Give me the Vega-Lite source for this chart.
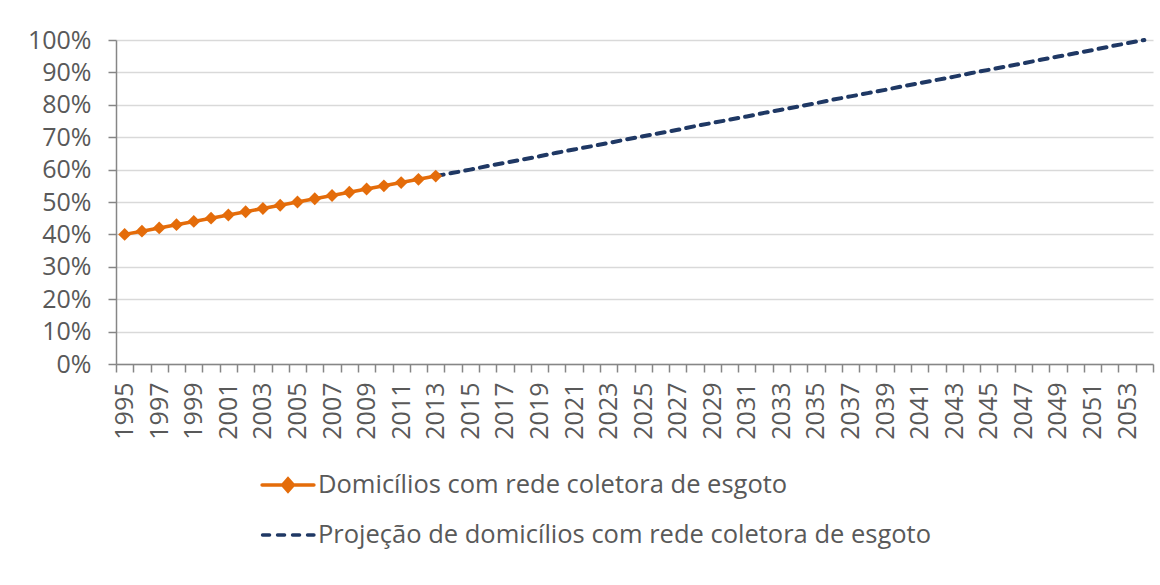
{
  "$schema": "https://vega.github.io/schema/vega-lite/v6.json",
  "autosize": {"type": "none"},
  "width": 1037,
  "height": 324,
  "padding": {"left": 116, "top": 40, "right": 7, "bottom": 221},
  "background": "white",
  "config": {
    "view": {"stroke": null},
    "font": "Open Sans",
    "axis": {"labelFont": "Open Sans", "labelColor": "#595959", "labelFontSize": 25, "domainColor": "#868686", "tickColor": "#868686", "domainWidth": 1.5, "tickWidth": 1.5}
  },
  "datasets": {
    "actual": [
      {"year": 1995, "value": 0.40, "series": "Domicílios com rede coletora de esgoto"},
      {"year": 1996, "value": 0.41, "series": "Domicílios com rede coletora de esgoto"},
      {"year": 1997, "value": 0.42, "series": "Domicílios com rede coletora de esgoto"},
      {"year": 1998, "value": 0.43, "series": "Domicílios com rede coletora de esgoto"},
      {"year": 1999, "value": 0.44, "series": "Domicílios com rede coletora de esgoto"},
      {"year": 2000, "value": 0.45, "series": "Domicílios com rede coletora de esgoto"},
      {"year": 2001, "value": 0.46, "series": "Domicílios com rede coletora de esgoto"},
      {"year": 2002, "value": 0.47, "series": "Domicílios com rede coletora de esgoto"},
      {"year": 2003, "value": 0.48, "series": "Domicílios com rede coletora de esgoto"},
      {"year": 2004, "value": 0.49, "series": "Domicílios com rede coletora de esgoto"},
      {"year": 2005, "value": 0.50, "series": "Domicílios com rede coletora de esgoto"},
      {"year": 2006, "value": 0.51, "series": "Domicílios com rede coletora de esgoto"},
      {"year": 2007, "value": 0.52, "series": "Domicílios com rede coletora de esgoto"},
      {"year": 2008, "value": 0.53, "series": "Domicílios com rede coletora de esgoto"},
      {"year": 2009, "value": 0.54, "series": "Domicílios com rede coletora de esgoto"},
      {"year": 2010, "value": 0.55, "series": "Domicílios com rede coletora de esgoto"},
      {"year": 2011, "value": 0.56, "series": "Domicílios com rede coletora de esgoto"},
      {"year": 2012, "value": 0.57, "series": "Domicílios com rede coletora de esgoto"},
      {"year": 2013, "value": 0.58, "series": "Domicílios com rede coletora de esgoto"}
    ],
    "projection": [
      {"year": 2013, "value": 0.580, "series": "Projeção de domicílios com rede coletora de esgoto"},
      {"year": 2014, "value": 0.590, "series": "Projeção de domicílios com rede coletora de esgoto"},
      {"year": 2015, "value": 0.600, "series": "Projeção de domicílios com rede coletora de esgoto"},
      {"year": 2016, "value": 0.611, "series": "Projeção de domicílios com rede coletora de esgoto"},
      {"year": 2017, "value": 0.621, "series": "Projeção de domicílios com rede coletora de esgoto"},
      {"year": 2018, "value": 0.631, "series": "Projeção de domicílios com rede coletora de esgoto"},
      {"year": 2019, "value": 0.641, "series": "Projeção de domicílios com rede coletora de esgoto"},
      {"year": 2020, "value": 0.652, "series": "Projeção de domicílios com rede coletora de esgoto"},
      {"year": 2021, "value": 0.662, "series": "Projeção de domicílios com rede coletora de esgoto"},
      {"year": 2022, "value": 0.672, "series": "Projeção de domicílios com rede coletora de esgoto"},
      {"year": 2023, "value": 0.682, "series": "Projeção de domicílios com rede coletora de esgoto"},
      {"year": 2024, "value": 0.693, "series": "Projeção de domicílios com rede coletora de esgoto"},
      {"year": 2025, "value": 0.703, "series": "Projeção de domicílios com rede coletora de esgoto"},
      {"year": 2026, "value": 0.713, "series": "Projeção de domicílios com rede coletora de esgoto"},
      {"year": 2027, "value": 0.723, "series": "Projeção de domicílios com rede coletora de esgoto"},
      {"year": 2028, "value": 0.734, "series": "Projeção de domicílios com rede coletora de esgoto"},
      {"year": 2029, "value": 0.744, "series": "Projeção de domicílios com rede coletora de esgoto"},
      {"year": 2030, "value": 0.754, "series": "Projeção de domicílios com rede coletora de esgoto"},
      {"year": 2031, "value": 0.764, "series": "Projeção de domicílios com rede coletora de esgoto"},
      {"year": 2032, "value": 0.775, "series": "Projeção de domicílios com rede coletora de esgoto"},
      {"year": 2033, "value": 0.785, "series": "Projeção de domicílios com rede coletora de esgoto"},
      {"year": 2034, "value": 0.795, "series": "Projeção de domicílios com rede coletora de esgoto"},
      {"year": 2035, "value": 0.805, "series": "Projeção de domicílios com rede coletora de esgoto"},
      {"year": 2036, "value": 0.816, "series": "Projeção de domicílios com rede coletora de esgoto"},
      {"year": 2037, "value": 0.826, "series": "Projeção de domicílios com rede coletora de esgoto"},
      {"year": 2038, "value": 0.836, "series": "Projeção de domicílios com rede coletora de esgoto"},
      {"year": 2039, "value": 0.846, "series": "Projeção de domicílios com rede coletora de esgoto"},
      {"year": 2040, "value": 0.857, "series": "Projeção de domicílios com rede coletora de esgoto"},
      {"year": 2041, "value": 0.867, "series": "Projeção de domicílios com rede coletora de esgoto"},
      {"year": 2042, "value": 0.877, "series": "Projeção de domicílios com rede coletora de esgoto"},
      {"year": 2043, "value": 0.887, "series": "Projeção de domicílios com rede coletora de esgoto"},
      {"year": 2044, "value": 0.898, "series": "Projeção de domicílios com rede coletora de esgoto"},
      {"year": 2045, "value": 0.908, "series": "Projeção de domicílios com rede coletora de esgoto"},
      {"year": 2046, "value": 0.918, "series": "Projeção de domicílios com rede coletora de esgoto"},
      {"year": 2047, "value": 0.928, "series": "Projeção de domicílios com rede coletora de esgoto"},
      {"year": 2048, "value": 0.939, "series": "Projeção de domicílios com rede coletora de esgoto"},
      {"year": 2049, "value": 0.949, "series": "Projeção de domicílios com rede coletora de esgoto"},
      {"year": 2050, "value": 0.959, "series": "Projeção de domicílios com rede coletora de esgoto"},
      {"year": 2051, "value": 0.969, "series": "Projeção de domicílios com rede coletora de esgoto"},
      {"year": 2052, "value": 0.980, "series": "Projeção de domicílios com rede coletora de esgoto"},
      {"year": 2053, "value": 0.990, "series": "Projeção de domicílios com rede coletora de esgoto"},
      {"year": 2054, "value": 1.000, "series": "Projeção de domicílios com rede coletora de esgoto"}
    ]
  },
  "encoding": {
    "x": {
      "field": "year", "type": "ordinal",
      "scale": {"type": "band", "paddingInner": 0, "paddingOuter": 0},
      "axis": {"title": null, "labelAngle": -90, "labelExpr": "(datum.value - 1995) % 2 == 0 ? datum.label : ''", "labelOverlap": false, "tickBand": "extent", "tickSize": 8, "labelPadding": 10, "grid": false}
    },
    "y": {
      "field": "value", "type": "quantitative",
      "scale": {"domain": [0, 1], "nice": false},
      "axis": {"title": null, "format": ".0%", "values": [0, 0.1, 0.2, 0.3, 0.4, 0.5, 0.6, 0.7, 0.8, 0.9, 1.0], "tickSize": 8, "labelPadding": 17, "grid": true, "gridColor": "#D9D9D9", "gridWidth": 1.5}
    }
  },
  "layer": [
    {
      "data": {"name": "projection"},
      "mark": {"type": "line", "strokeWidth": 4, "strokeDash": [8, 7], "strokeCap": "round"},
      "encoding": {
        "color": {"field": "series", "type": "nominal",
          "scale": {"domain": ["Domicílios com rede coletora de esgoto", "Projeção de domicílios com rede coletora de esgoto"], "range": ["#E46C0A", "#1F3864"]},
          "legend": {
            "title": null, "orient": "none", "legendX": 146, "legendY": 419, "direction": "vertical",
            "symbolSize": 2304, "symbolStrokeWidth": 3.5, "rowPadding": 10, "padding": 0,
            "labelFont": "Open Sans", "labelFontSize": 25.5, "labelColor": "#595959", "labelLimit": 0, "labelOffset": 4,
            "encode": {"symbols": {"update": {
              "shape": {"signal": "datum.value == 'Domicílios com rede coletora de esgoto' ? 'M-1.08,0L1.08,0M0,-0.25L0.22,0L0,0.25L-0.22,0Z' : 'M-1.06,0L1.08,0'"},
              "fill": {"signal": "datum.value == 'Domicílios com rede coletora de esgoto' ? '#E46C0A' : 'transparent'"},
              "strokeDash": {"signal": "datum.value == 'Domicílios com rede coletora de esgoto' ? [1, 0] : [7, 8]"},
              "strokeCap": {"value": "round"},
              "strokeWidth": {"value": 3.5},
              "opacity": {"value": 1}
            }}}
          }
        }
      }
    },
    {
      "data": {"name": "actual"},
      "mark": {"type": "line", "strokeWidth": 3.5},
      "encoding": {
        "color": {"field": "series", "type": "nominal"}
      }
    },
    {
      "data": {"name": "actual"},
      "mark": {"type": "point", "shape": "diamond", "filled": true, "size": 165, "opacity": 1, "color": "#E46C0A"},
      "encoding": {}
    }
  ]
}
